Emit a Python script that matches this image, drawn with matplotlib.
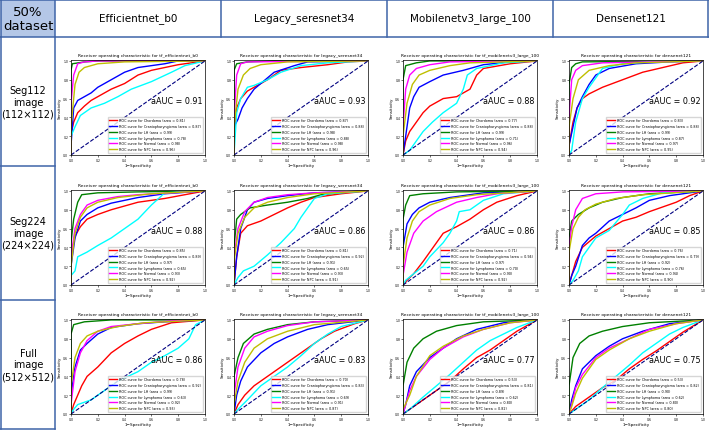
import matplotlib.pyplot as plt
from matplotlib.lines import Line2D
from matplotlib.patches import Rectangle

classes = ["Chordoma", "Craniopharyngioma", "LH", "Lymphoma", "Normal", "NPC"]
colors = ["red", "blue", "green", "cyan", "magenta", "y"]

models = ["Efficientnet_b0", "Legacy_seresnet34", "Mobilenetv3_large_100", "Densenet121"]
model_ids = ["tf_efficientnet_b0", "legacy_seresnet34", "tf_mobilenetv3_large_100", "densenet121"]
row_labels = ["Seg112\nimage\n(112\u00d7112)", "Seg224\nimage\n(224\u00d7224)", "Full\nimage\n(512\u00d7512)"]

# per-class AUC, read from the legends
areas_seg112 = [[0.81, 0.87, 0.99, 0.78, 0.98, 0.96],
                [0.87, 0.88, 0.98, 0.88, 0.98, 0.96],
                [0.77, 0.88, 0.99, 0.71, 0.96, 0.94],
                [0.83, 0.88, 0.99, 0.87, 0.97, 0.95]]
areas_seg224 = [[0.85, 0.89, 0.97, 0.65, 0.93, 0.92],
                [0.81, 0.92, 0.91, 0.65, 0.93, 0.91],
                [0.71, 0.94, 0.97, 0.70, 0.90, 0.92],
                [0.76, 0.79, 0.92, 0.76, 0.94, 0.90]]
areas_full = [[0.78, 0.92, 0.99, 0.63, 0.92, 0.93],
              [0.70, 0.83, 0.91, 0.69, 0.91, 0.87],
              [0.53, 0.81, 0.89, 0.62, 0.80, 0.82],
              [0.53, 0.82, 0.90, 0.62, 0.80, 0.80]]
aauc_seg112 = [0.91, 0.93, 0.88, 0.92]
aauc_seg224 = [0.88, 0.86, 0.86, 0.85]
aauc_full = [0.86, 0.83, 0.77, 0.75]

# ROC curves as (fpr, tpr) points, order follows `classes`
seg112_efficientnet = [
    [(0, 0), (0, 0.22), (0.02, 0.35), (0.05, 0.45), (0.1, 0.52), (0.15, 0.58), (0.2, 0.62), (0.3, 0.7), (0.4, 0.76), (0.5, 0.85), (0.6, 0.9), (0.8, 0.96), (1, 1)],
    [(0, 0), (0, 0.1), (0.02, 0.5), (0.05, 0.58), (0.1, 0.62), (0.15, 0.66), (0.2, 0.72), (0.3, 0.8), (0.4, 0.88), (0.5, 0.93), (0.7, 0.97), (0.8, 1), (1, 1)],
    [(0, 0), (0, 0.9), (0.01, 0.97), (0.1, 0.99), (0.2, 1), (1, 1)],
    [(0, 0), (0, 0.2), (0.03, 0.3), (0.07, 0.42), (0.15, 0.5), (0.25, 0.55), (0.35, 0.62), (0.45, 0.7), (0.6, 0.78), (0.75, 0.88), (0.85, 0.95), (1, 1)],
    [(0, 0), (0, 0.55), (0.02, 0.85), (0.05, 0.97), (0.1, 0.99), (0.2, 1), (1, 1)],
    [(0, 0), (0, 0.3), (0.03, 0.75), (0.06, 0.88), (0.1, 0.93), (0.2, 0.97), (0.4, 0.99), (1, 1)],
]
seg112_seresnet = [
    [(0, 0), (0, 0.15), (0.02, 0.5), (0.05, 0.6), (0.1, 0.68), (0.15, 0.72), (0.25, 0.8), (0.35, 0.9), (0.5, 0.93), (0.7, 0.96), (0.85, 0.99), (1, 1)],
    [(0, 0), (0, 0.3), (0.03, 0.38), (0.06, 0.5), (0.1, 0.6), (0.15, 0.7), (0.2, 0.76), (0.3, 0.88), (0.45, 0.95), (0.55, 0.99), (1, 1)],
    [(0, 0), (0, 0.9), (0.02, 0.97), (0.1, 0.99), (0.3, 1), (1, 1)],
    [(0, 0), (0.02, 0.45), (0.05, 0.6), (0.1, 0.72), (0.15, 0.74), (0.25, 0.8), (0.35, 0.88), (0.5, 0.95), (0.7, 0.98), (1, 1)],
    [(0, 0), (0, 0.4), (0.02, 0.85), (0.05, 0.97), (0.1, 0.99), (1, 1)],
    [(0, 0), (0, 0.3), (0.03, 0.7), (0.07, 0.85), (0.12, 0.92), (0.2, 0.96), (0.4, 0.99), (1, 1)],
]
seg112_mobilenet = [
    [(0, 0), (0.02, 0.15), (0.05, 0.25), (0.1, 0.35), (0.15, 0.45), (0.2, 0.52), (0.3, 0.6), (0.4, 0.62), (0.5, 0.7), (0.55, 0.85), (0.6, 0.92), (0.8, 0.97), (1, 1)],
    [(0, 0), (0.02, 0.2), (0.05, 0.5), (0.08, 0.62), (0.12, 0.72), (0.2, 0.78), (0.3, 0.85), (0.45, 0.9), (0.6, 0.96), (0.8, 0.99), (1, 1)],
    [(0, 0), (0, 0.8), (0.02, 0.95), (0.1, 0.98), (0.2, 1), (1, 1)],
    [(0, 0), (0.05, 0.05), (0.1, 0.15), (0.15, 0.25), (0.22, 0.35), (0.3, 0.45), (0.4, 0.55), (0.45, 0.7), (0.48, 0.85), (0.55, 0.92), (0.75, 0.98), (1, 1)],
    [(0, 0), (0, 0.3), (0.02, 0.7), (0.05, 0.85), (0.1, 0.92), (0.2, 0.96), (0.35, 0.99), (1, 1)],
    [(0, 0), (0, 0.2), (0.03, 0.55), (0.07, 0.75), (0.12, 0.85), (0.2, 0.9), (0.35, 0.95), (0.5, 0.98), (1, 1)],
]
seg112_densenet = [
    [(0, 0), (0, 0.1), (0.03, 0.35), (0.06, 0.5), (0.1, 0.6), (0.15, 0.65), (0.25, 0.72), (0.4, 0.8), (0.55, 0.88), (0.7, 0.93), (0.85, 0.98), (1, 1)],
    [(0, 0), (0, 0.1), (0.03, 0.3), (0.06, 0.5), (0.1, 0.62), (0.15, 0.75), (0.2, 0.85), (0.3, 0.92), (0.5, 0.97), (0.75, 0.99), (1, 1)],
    [(0, 0), (0, 0.75), (0.02, 0.93), (0.05, 0.97), (0.1, 0.99), (1, 1)],
    [(0, 0), (0.02, 0.05), (0.05, 0.35), (0.1, 0.6), (0.15, 0.72), (0.2, 0.82), (0.25, 0.92), (0.4, 0.97), (0.6, 0.99), (1, 1)],
    [(0, 0), (0, 0.4), (0.02, 0.8), (0.05, 0.9), (0.1, 0.95), (0.25, 0.98), (1, 1)],
    [(0, 0), (0, 0.3), (0.03, 0.6), (0.07, 0.8), (0.15, 0.9), (0.3, 0.95), (0.5, 0.98), (1, 1)],
]
seg224_efficientnet = [
    [(0, 0), (0, 0.3), (0.03, 0.52), (0.07, 0.62), (0.12, 0.7), (0.2, 0.75), (0.3, 0.8), (0.5, 0.88), (0.7, 0.92), (0.85, 0.96), (1, 1)],
    [(0, 0), (0, 0.2), (0.03, 0.5), (0.07, 0.68), (0.12, 0.75), (0.2, 0.82), (0.3, 0.87), (0.5, 0.93), (0.7, 0.97), (1, 1)],
    [(0, 0), (0, 0.45), (0.02, 0.7), (0.05, 0.88), (0.08, 0.96), (0.2, 0.98), (0.5, 0.99), (1, 1)],
    [(0, 0), (0, 0.1), (0.03, 0.15), (0.05, 0.3), (0.12, 0.35), (0.2, 0.42), (0.3, 0.5), (0.4, 0.6), (0.5, 0.7), (0.6, 0.85), (0.7, 0.98), (1, 1)],
    [(0, 0), (0, 0.3), (0.03, 0.6), (0.07, 0.75), (0.12, 0.85), (0.2, 0.9), (0.35, 0.94), (0.5, 0.96), (1, 1)],
    [(0, 0), (0, 0.2), (0.03, 0.55), (0.07, 0.72), (0.12, 0.82), (0.2, 0.88), (0.35, 0.93), (0.6, 0.97), (1, 1)],
]
seg224_seresnet = [
    [(0, 0), (0.02, 0.3), (0.05, 0.55), (0.1, 0.63), (0.2, 0.68), (0.3, 0.75), (0.4, 0.82), (0.5, 0.88), (0.6, 0.93), (0.8, 0.97), (1, 1)],
    [(0, 0), (0.02, 0.3), (0.05, 0.6), (0.1, 0.8), (0.15, 0.88), (0.25, 0.92), (0.4, 0.95), (0.6, 0.98), (1, 1)],
    [(0, 0), (0, 0.4), (0.02, 0.7), (0.05, 0.75), (0.12, 0.82), (0.25, 0.85), (0.4, 0.88), (0.55, 0.92), (0.65, 0.96), (0.85, 0.99), (1, 1)],
    [(0, 0), (0.03, 0.08), (0.07, 0.15), (0.15, 0.2), (0.25, 0.32), (0.35, 0.45), (0.45, 0.6), (0.5, 0.72), (0.55, 0.82), (0.6, 0.92), (0.7, 0.97), (1, 1)],
    [(0, 0), (0, 0.3), (0.03, 0.6), (0.08, 0.78), (0.15, 0.88), (0.25, 0.93), (0.4, 0.96), (0.6, 0.98), (1, 1)],
    [(0, 0), (0, 0.25), (0.03, 0.55), (0.08, 0.72), (0.15, 0.82), (0.25, 0.88), (0.4, 0.93), (0.6, 0.97), (1, 1)],
]
seg224_mobilenet = [
    [(0, 0), (0.03, 0.05), (0.08, 0.12), (0.15, 0.25), (0.2, 0.35), (0.25, 0.45), (0.3, 0.55), (0.4, 0.62), (0.5, 0.7), (0.6, 0.8), (0.7, 0.88), (0.85, 0.95), (1, 1)],
    [(0, 0), (0, 0.4), (0.03, 0.65), (0.07, 0.75), (0.12, 0.82), (0.2, 0.88), (0.35, 0.93), (0.6, 0.98), (1, 1)],
    [(0, 0), (0, 0.7), (0.02, 0.85), (0.05, 0.95), (0.15, 0.97), (0.4, 0.99), (1, 1)],
    [(0, 0), (0.02, 0.05), (0.08, 0.12), (0.15, 0.2), (0.2, 0.3), (0.3, 0.45), (0.35, 0.55), (0.4, 0.68), (0.42, 0.78), (0.5, 0.8), (0.6, 0.9), (0.75, 0.97), (1, 1)],
    [(0, 0), (0, 0.1), (0.03, 0.35), (0.08, 0.55), (0.15, 0.68), (0.25, 0.78), (0.4, 0.88), (0.55, 0.93), (0.7, 0.97), (1, 1)],
    [(0, 0), (0, 0.2), (0.03, 0.5), (0.07, 0.68), (0.12, 0.78), (0.2, 0.85), (0.35, 0.92), (0.55, 0.96), (1, 1)],
]
seg224_densenet = [
    [(0, 0), (0.02, 0.1), (0.05, 0.25), (0.1, 0.4), (0.2, 0.52), (0.3, 0.6), (0.4, 0.68), (0.5, 0.72), (0.6, 0.78), (0.8, 0.88), (0.9, 0.95), (1, 1)],
    [(0, 0), (0.02, 0.1), (0.05, 0.2), (0.1, 0.42), (0.15, 0.5), (0.2, 0.55), (0.3, 0.68), (0.4, 0.75), (0.5, 0.82), (0.6, 0.9), (0.75, 0.95), (1, 1)],
    [(0, 0), (0, 0.5), (0.02, 0.68), (0.07, 0.75), (0.15, 0.82), (0.25, 0.88), (0.4, 0.93), (0.6, 0.97), (1, 1)],
    [(0, 0), (0.03, 0.05), (0.07, 0.15), (0.1, 0.3), (0.15, 0.4), (0.2, 0.5), (0.3, 0.58), (0.4, 0.75), (0.45, 0.85), (0.55, 0.92), (0.7, 0.98), (1, 1)],
    [(0, 0), (0, 0.4), (0.02, 0.62), (0.05, 0.8), (0.1, 0.92), (0.2, 0.97), (0.4, 0.99), (1, 1)],
    [(0, 0), (0, 0.35), (0.03, 0.6), (0.07, 0.72), (0.12, 0.8), (0.2, 0.86), (0.35, 0.92), (0.55, 0.96), (1, 1)],
]
full_efficientnet = [
    [(0, 0), (0.02, 0.1), (0.05, 0.2), (0.08, 0.3), (0.12, 0.4), (0.2, 0.5), (0.3, 0.65), (0.4, 0.75), (0.5, 0.83), (0.6, 0.9), (0.75, 0.97), (1, 1)],
    [(0, 0), (0, 0.2), (0.03, 0.5), (0.07, 0.68), (0.12, 0.75), (0.2, 0.85), (0.3, 0.92), (0.5, 0.96), (0.7, 0.98), (1, 1)],
    [(0, 0), (0, 0.85), (0.02, 0.95), (0.1, 0.98), (0.3, 1), (1, 1)],
    [(0, 0), (0.02, 0.05), (0.05, 0.1), (0.15, 0.15), (0.25, 0.25), (0.35, 0.35), (0.5, 0.45), (0.6, 0.55), (0.7, 0.62), (0.8, 0.7), (0.88, 0.8), (0.93, 0.95), (1, 1)],
    [(0, 0), (0, 0.1), (0.03, 0.45), (0.07, 0.65), (0.12, 0.78), (0.2, 0.88), (0.3, 0.93), (0.5, 0.96), (0.75, 0.99), (1, 1)],
    [(0, 0), (0, 0.3), (0.03, 0.6), (0.07, 0.75), (0.12, 0.83), (0.2, 0.88), (0.35, 0.93), (0.55, 0.97), (1, 1)],
]
full_seresnet = [
    [(0, 0), (0.03, 0.1), (0.08, 0.2), (0.15, 0.3), (0.25, 0.4), (0.35, 0.5), (0.45, 0.6), (0.55, 0.7), (0.65, 0.8), (0.75, 0.88), (0.9, 0.96), (1, 1)],
    [(0, 0), (0.02, 0.2), (0.05, 0.35), (0.1, 0.5), (0.2, 0.65), (0.3, 0.75), (0.4, 0.82), (0.55, 0.9), (0.7, 0.95), (1, 1)],
    [(0, 0), (0, 0.4), (0.03, 0.6), (0.07, 0.75), (0.15, 0.85), (0.25, 0.9), (0.4, 0.95), (0.6, 0.98), (1, 1)],
    [(0, 0), (0.03, 0.05), (0.1, 0.15), (0.2, 0.3), (0.3, 0.4), (0.4, 0.5), (0.5, 0.62), (0.6, 0.75), (0.7, 0.85), (0.8, 0.93), (1, 1)],
    [(0, 0), (0, 0.2), (0.03, 0.5), (0.08, 0.7), (0.15, 0.82), (0.25, 0.88), (0.4, 0.94), (0.6, 0.98), (1, 1)],
    [(0, 0), (0, 0.1), (0.03, 0.35), (0.08, 0.55), (0.15, 0.7), (0.25, 0.8), (0.4, 0.88), (0.6, 0.95), (1, 1)],
]
full_mobilenet = [
    [(0, 0), (0.05, 0.05), (0.15, 0.15), (0.25, 0.25), (0.35, 0.35), (0.45, 0.48), (0.55, 0.6), (0.65, 0.68), (0.75, 0.78), (0.85, 0.88), (1, 1)],
    [(0, 0), (0.02, 0.1), (0.05, 0.3), (0.1, 0.45), (0.2, 0.6), (0.3, 0.7), (0.4, 0.8), (0.55, 0.9), (0.75, 0.97), (1, 1)],
    [(0, 0), (0, 0.3), (0.03, 0.55), (0.08, 0.7), (0.15, 0.8), (0.25, 0.88), (0.4, 0.94), (0.6, 0.98), (1, 1)],
    [(0, 0), (0.05, 0.05), (0.15, 0.18), (0.25, 0.3), (0.35, 0.42), (0.45, 0.55), (0.55, 0.68), (0.65, 0.78), (0.75, 0.85), (0.85, 0.92), (1, 1)],
    [(0, 0), (0.02, 0.1), (0.05, 0.25), (0.1, 0.4), (0.2, 0.58), (0.3, 0.7), (0.45, 0.82), (0.6, 0.9), (0.8, 0.97), (1, 1)],
    [(0, 0), (0, 0.05), (0.05, 0.2), (0.1, 0.4), (0.2, 0.62), (0.3, 0.72), (0.45, 0.83), (0.6, 0.9), (0.8, 0.97), (1, 1)],
]
full_densenet = [
    [(0, 0), (0.05, 0.08), (0.15, 0.18), (0.25, 0.28), (0.35, 0.36), (0.45, 0.48), (0.55, 0.58), (0.65, 0.67), (0.75, 0.77), (0.85, 0.87), (1, 1)],
    [(0, 0), (0.02, 0.15), (0.05, 0.3), (0.1, 0.48), (0.2, 0.62), (0.3, 0.72), (0.4, 0.8), (0.55, 0.88), (0.75, 0.96), (1, 1)],
    [(0, 0), (0, 0.3), (0.03, 0.6), (0.08, 0.75), (0.15, 0.83), (0.25, 0.88), (0.4, 0.93), (0.6, 0.97), (1, 1)],
    [(0, 0), (0.05, 0.05), (0.15, 0.15), (0.25, 0.28), (0.35, 0.4), (0.45, 0.52), (0.55, 0.65), (0.65, 0.75), (0.75, 0.85), (0.85, 0.92), (1, 1)],
    [(0, 0), (0.02, 0.1), (0.05, 0.28), (0.1, 0.42), (0.2, 0.6), (0.3, 0.7), (0.45, 0.8), (0.6, 0.9), (0.8, 0.96), (1, 1)],
    [(0, 0), (0.02, 0.08), (0.05, 0.22), (0.1, 0.38), (0.2, 0.58), (0.3, 0.68), (0.45, 0.8), (0.6, 0.88), (0.8, 0.96), (1, 1)],
]

curves = [[seg112_efficientnet, seg112_seresnet, seg112_mobilenet, seg112_densenet],
          [seg224_efficientnet, seg224_seresnet, seg224_mobilenet, seg224_densenet],
          [full_efficientnet, full_seresnet, full_mobilenet, full_densenet]]
areas = [areas_seg112, areas_seg224, areas_full]
aauc = [aauc_seg112, aauc_seg224, aauc_full]

W, H = 709, 431
fig = plt.figure(figsize=(W / 100, H / 100), dpi=100)
line_col = "#3F64A8"


def fx(x):
    return x / W


def fy(y):
    return 1 - y / H


def hline(x0, x1, y):
    fig.add_artist(Line2D([fx(x0), fx(x1)], [fy(y), fy(y)], color=line_col, lw=1.1))


def vline(x, y0, y1):
    fig.add_artist(Line2D([fx(x), fx(x)], [fy(y0), fy(y1)], color=line_col, lw=1.1))


# table frame
fig.add_artist(Rectangle((fx(1), fy(38)), fx(54), 38 / H, facecolor="#B4C7E7", edgecolor="none"))
col_x = [1, 55, 221, 387, 553, 708]
row_y = [38, 167, 301, 430]
hline(0, 709, 1)
hline(0, 709, 38)
for x in col_x:
    vline(x, 0, 38)
vline(1, 38, 430)
vline(55, 38, 430)
for y in row_y[1:]:
    hline(0, 55, y)

fig.text(fx(28), fy(19), "50%\ndataset", ha="center", va="center", fontsize=9.5, linespacing=1.1)
for i, m in enumerate(models):
    fig.text(fx((col_x[i + 1] + col_x[i + 2]) / 2), fy(19), m, ha="center", va="center", fontsize=7.5)
for r, lab in enumerate(row_labels):
    fig.text(fx(28), fy((row_y[r] + row_y[r + 1]) / 2), lab, ha="center", va="center", fontsize=7, linespacing=1.2)

ax_x = [71, 234, 403, 569]
ax_y = [61, 191, 320]
ax_w, ax_h = 134, 95

for r in range(3):
    for c in range(4):
        ax = fig.add_axes([fx(ax_x[c]), fy(ax_y[r] + ax_h), ax_w / W, ax_h / H])
        for k in range(6):
            pts = curves[r][c][k]
            ax.plot([p[0] for p in pts], [p[1] for p in pts], color=colors[k], lw=1.0,
                    label="ROC curve for %s (area = %0.2f)" % (classes[k], areas[r][c][k]))
        ax.plot([0, 1], [0, 1], color="navy", lw=0.8, linestyle="--")
        ax.set_xlim(0.0, 1.0)
        ax.set_ylim(0.0, 1.01)
        ax.set_xticks([0, 0.2, 0.4, 0.6, 0.8, 1.0])
        ax.set_yticks([0, 0.2, 0.4, 0.6, 0.8, 1.0])
        ax.tick_params(labelsize=2.2, length=1.2, width=0.4, pad=0.8)
        for s in ax.spines.values():
            s.set_linewidth(0.5)
        ax.set_xlabel("1\u2212Specificity", fontsize=3, labelpad=0.8)
        ax.set_ylabel("Sensitivity", fontsize=3, labelpad=1)
        ax.set_title("Receiver operating characteristic for " + model_ids[c], fontsize=3.2, pad=3)
        ax.text(0.98, 0.57, "aAUC = %0.2f" % aauc[r][c], transform=ax.transAxes,
                ha="right", va="center", fontsize=5.8)
        ax.legend(loc="lower right", fontsize=2.4, handlelength=2.2, labelspacing=0.55,
                  borderpad=0.5, borderaxespad=0.6, frameon=True)

fig.savefig("out.png", dpi=100)
